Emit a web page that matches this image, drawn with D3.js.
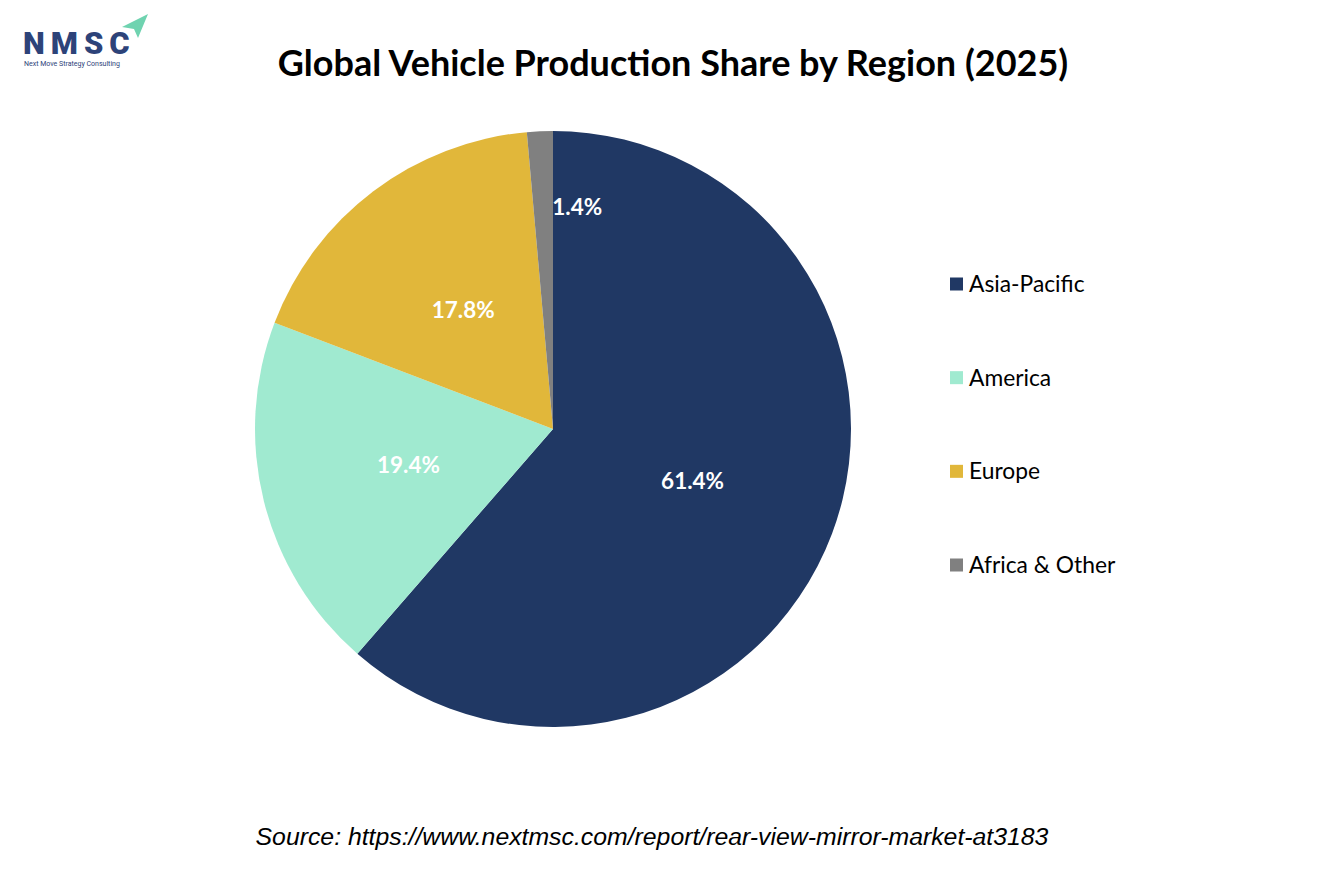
<!DOCTYPE html>
<html>
<head>
<meta charset="utf-8">
<script src="https://cdn.jsdelivr.net/npm/d3@7"></script>
<style>
  body { margin: 0; background: #fff; }
  svg { display: block; }
</style>
</head>
<body>
<svg id="chart" width="1334" height="889"></svg>
<script>
// chart data
var regions = ['Asia-Pacific', 'America', 'Europe', 'Africa & Other'];
var shares = [61.4, 19.4, 17.8, 1.4];
var colors = ['#203864', '#a0ead0', '#e1b73a', '#808080'];

var svg = d3.select('#chart');

// logo
var logo = svg.append('g').attr('class', 'logo');
logo.append('path')
  .attr('d', 'M122,27 L148,14 L138,38 L134,29 Z')
  .attr('fill', '#6fd3b0');
logo.append('text')
  .attr('x', 23)
  .attr('y', 54)
  .attr('font-family', 'Roboto, sans-serif')
  .attr('font-weight', 900)
  .attr('font-size', 31)
  .attr('letter-spacing', 6)
  .attr('fill', '#2d4379')
  .text('NMSC');
logo.append('text')
  .attr('x', 24)
  .attr('y', 66)
  .attr('font-family', 'Roboto, sans-serif')
  .attr('font-size', 7)
  .attr('fill', '#2d4379')
  .text('Next Move Strategy Consulting');

// title
svg.append('text')
  .attr('x', 673)
  .attr('y', 76)
  .attr('text-anchor', 'middle')
  .attr('font-family', 'Lato, sans-serif')
  .attr('font-weight', 'bold')
  .attr('font-size', 36)
  .attr('fill', '#000')
  .text('Global Vehicle Production Share by Region (2025)');

// pie
var radius = 298;
var pieGroup = svg.append('g')
  .attr('transform', 'translate(553,429)');

var pie = d3.pie().sort(null).value(function(d) { return d; });
var arc = d3.arc().innerRadius(0).outerRadius(radius);
var labelArc = d3.arc().innerRadius(radius * 0.5).outerRadius(radius * 0.5);
var smallArc = d3.arc().innerRadius(radius * 0.745).outerRadius(radius * 0.745);

var slices = pie(shares);

pieGroup.selectAll('path')
  .data(slices)
  .enter()
  .append('path')
    .attr('d', arc)
    .attr('fill', function(d, i) { return colors[i]; });

pieGroup.selectAll('text')
  .data(slices)
  .enter()
  .append('text')
    .attr('transform', function(d) {
      var c = d.data < 3 ? smallArc.centroid(d) : labelArc.centroid(d);
      return 'translate(' + c + ')';
    })
    .attr('dx', function(d) { return d.data < 3 ? 9 : 0; })
    .attr('dy', '0.35em')
    .attr('text-anchor', function(d) { return d.data < 3 ? 'start' : 'middle'; })
    .attr('font-family', 'Lato, sans-serif')
    .attr('font-weight', 'bold')
    .attr('font-size', 22.5)
    .attr('fill', '#fff')
    .text(function(d) { return d.data.toFixed(1) + '%'; });

// legend
var legend = svg.append('g')
  .attr('transform', 'translate(950,284)');

var legendScale = d3.scalePoint()
  .domain(regions)
  .range([0, 281]);

var items = legend.selectAll('g')
  .data(regions)
  .enter()
  .append('g')
    .attr('transform', function(d) { return 'translate(0,' + legendScale(d) + ')'; });

items.append('rect')
  .attr('x', 0)
  .attr('y', -6.5)
  .attr('width', 13)
  .attr('height', 13)
  .attr('fill', function(d, i) { return colors[i]; });

items.append('text')
  .attr('x', 19)
  .attr('dy', '0.35em')
  .attr('font-family', 'Lato, sans-serif')
  .attr('font-size', 22.8)
  .attr('fill', '#000')
  .text(function(d) { return d; });

// source
svg.append('text')
  .attr('x', 652)
  .attr('y', 845)
  .attr('text-anchor', 'middle')
  .attr('font-family', '"Liberation Sans", Arial, sans-serif')
  .attr('font-style', 'italic')
  .attr('font-size', 24.8)
  .attr('fill', '#000')
  .text('Source: https://www.nextmsc.com/report/rear-view-mirror-market-at3183');
</script>
</body>
</html>
